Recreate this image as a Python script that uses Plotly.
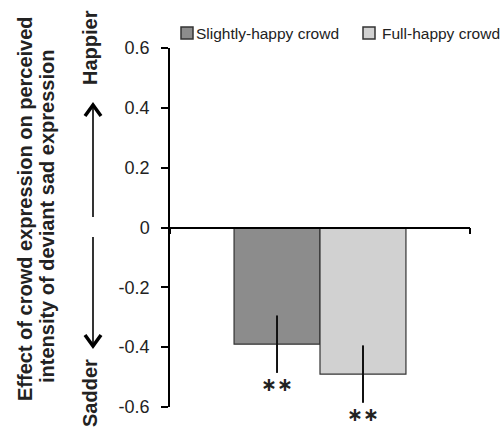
import plotly.graph_objects as go

categories = ["Crowd"]
series_names = ["Slightly-happy crowd", "Full-happy crowd"]
series_values = [[-0.39], [-0.49]]
series_errors = [[0.096], [0.096]]
series_colors = ["#8c8c8c", "#d1d1d1"]
significance = ["\u2217\u2217", "\u2217\u2217"]
tick_vals = [-0.6, -0.4, -0.2, 0, 0.2, 0.4, 0.6]
tick_text = ["-0.6", "-0.4", "-0.2", "0", "0.2", "0.4", "0.6"]

FONT = "Liberation Sans, Arial, sans-serif"
TXT = "#222222"
BARGAP = 0.427
ML, MR, MT, MB = 170, 34, 48, 24
W = 504 - ML - MR
H = 431 - MT - MB


def py(p):
    return (431 - MB - p) / H


def px(p):
    return (p - ML) / W


fig = go.Figure()
for name, vals, errs, col in zip(series_names, series_values, series_errors, series_colors):
    fig.add_trace(go.Bar(
        x=categories, y=vals, name=name, showlegend=False,
        marker=dict(color=col, line=dict(color="#333333", width=1.2)),
        error_y=dict(type="data", array=errs, visible=True, color="#111111",
                     thickness=2, width=0),
    ))

# significance stars below error bars
n = len(series_names)
bw = (1 - BARGAP) / n
for i, (vals, errs, s) in enumerate(zip(series_values, series_errors, significance)):
    xpos = -(1 - BARGAP) / 2 + bw * (i + 0.5)
    fig.add_annotation(x=xpos, y=vals[0] - errs[0], xref="x", yref="y",
                       text=f"<b>{s}</b>", showarrow=False, xanchor="center", yanchor="middle",
                       yshift=-11,
                       font=dict(family="DejaVu Sans", size=19, color=TXT))

# manual legend (top, single row)
legend_sq_x = [181, 363]
legend_txt_x = [194, 380]
for name, col, sx, tx in zip(series_names, series_colors, legend_sq_x, legend_txt_x):
    fig.add_shape(type="rect", xref="paper", yref="paper",
                  x0=px(sx), x1=px(sx + 12), y0=py(39), y1=py(27),
                  fillcolor=col, line=dict(color="#333333", width=1.5))
    fig.add_annotation(x=px(tx), y=py(34), xref="paper", yref="paper",
                       text=name, showarrow=False, xanchor="left", yanchor="middle",
                       font=dict(family=FONT, size=15.5, color=TXT))


def rot_text(text, xp, yp, size=20):
    fig.add_annotation(x=px(xp), y=py(yp), xref="paper", yref="paper",
                       text=text, textangle=-90, showarrow=False,
                       xanchor="center", yanchor="middle",
                       font=dict(family=FONT, size=size, color=TXT))


# y-axis title (two rotated lines)
rot_text("<b>Effect of crowd expression on perceived</b>", 25, 209)
rot_text("<b>intensity of deviant sad expression</b>", 47, 217)
rot_text("<b>Happier</b>", 90, 48)
rot_text("<b>Sadder</b>", 90, 393)

# direction arrows
AX = 93
fig.add_shape(type="line", xref="paper", yref="paper",
              x0=px(AX), x1=px(AX), y0=py(217), y1=py(106),
              line=dict(color="black", width=1.6))
fig.add_shape(type="path", xref="paper", yref="paper",
              path=f"M {px(AX-8)},{py(116)} L {px(AX)},{py(105)} L {px(AX+8)},{py(116)}",
              line=dict(color="black", width=3.5))
fig.add_shape(type="line", xref="paper", yref="paper",
              x0=px(AX), x1=px(AX), y0=py(237), y1=py(345),
              line=dict(color="black", width=1.6))
fig.add_shape(type="path", xref="paper", yref="paper",
              path=f"M {px(AX-8)},{py(335)} L {px(AX)},{py(346)} L {px(AX+8)},{py(335)}",
              line=dict(color="black", width=3.5))

fig.update_layout(
    width=504, height=431,
    margin=dict(l=ML, r=MR, t=MT, b=MB, autoexpand=False),
    paper_bgcolor="white", plot_bgcolor="white",
    barmode="group", bargap=BARGAP, bargroupgap=0,
    font=dict(family=FONT, color=TXT),
    showlegend=False,
    xaxis=dict(anchor="free", position=0.5, range=[-0.5, 0.5],
               showline=True, linecolor="black", linewidth=1.5,
               ticks="outside", tickvals=[-0.5, 0.5], ticklen=6,
               tickcolor="black", tickwidth=1.5, showticklabels=False,
               showgrid=False, zeroline=False),
    yaxis=dict(range=[-0.6, 0.6], tickvals=tick_vals, ticktext=tick_text,
               showline=True, linecolor="black", linewidth=1.5,
               ticks="outside", ticklen=7, tickcolor="black", tickwidth=1.5,
               ticklabelstandoff=8,
               showgrid=False, zeroline=False,
               tickfont=dict(family=FONT, size=18, color=TXT)),
)

fig.write_html("out.html", config={"displayModeBar": False},
               post_script="document.body.style.margin='0';")
